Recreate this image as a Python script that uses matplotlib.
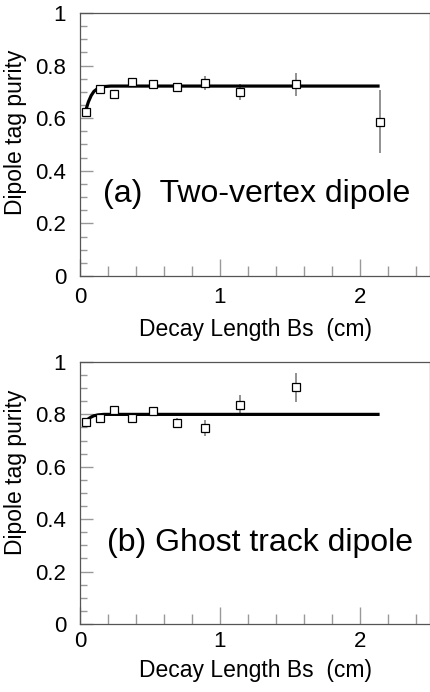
import numpy as np
import matplotlib
matplotlib.use("Agg")
import matplotlib.pyplot as plt
from matplotlib.ticker import MultipleLocator, FuncFormatter

plt.rcParams['font.family'] = ['Liberation Sans', 'DejaVu Sans']

# ----- data -----
# (a) two-vertex dipole
x_a = [0.043, 0.145, 0.244, 0.368, 0.522, 0.693, 0.894, 1.141, 1.545, 2.14]
y_a = [0.625, 0.710, 0.690, 0.739, 0.729, 0.719, 0.734, 0.698, 0.729, 0.587]
err_a = [0.012, 0.008, 0.008, 0.010, 0.013, 0.012, 0.027, 0.030, 0.043, 0.120]
fit_x_a = [0.04, 0.05, 0.06, 0.08, 0.10, 0.13, 0.17, 0.22, 2.14]
fit_y_a = [0.625, 0.645, 0.662, 0.686, 0.702, 0.714, 0.720, 0.722, 0.722]

# (b) ghost track dipole
x_b = [0.043, 0.145, 0.244, 0.368, 0.522, 0.693, 0.894, 1.141, 1.545]
y_b = [0.770, 0.785, 0.816, 0.785, 0.814, 0.767, 0.749, 0.837, 0.903]
err_b = [0.008, 0.008, 0.010, 0.008, 0.010, 0.019, 0.030, 0.036, 0.054]
fit_x_b = [0.04, 0.06, 0.08, 0.10, 0.13, 0.17, 2.14]
fit_y_b = [0.772, 0.783, 0.790, 0.795, 0.798, 0.800, 0.800]

# label, text x, ylabel y, xlabel y, x tick pad
panels = [
    (x_a, y_a, err_a, fit_x_a, fit_y_a, "(a)  Two-vertex dipole", 0.164, 0.548, -0.16, 8),
    (x_b, y_b, err_b, fit_x_b, fit_y_b, "(b) Ghost track dipole", 0.19, 0.58, -0.135, 5),
]
boxes = [[0.1856, 0.6012, 0.8121, 0.3801], [0.1856, 0.0983, 0.8121, 0.3786]]

fig = plt.figure(figsize=(4.31, 6.92), dpi=100)

def fmt(v, pos):
    if abs(v) < 1e-9:
        return "0"
    if abs(v - 1) < 1e-9:
        return "1"
    return "%g" % v

for (xs, ys, es, fx, fy, label, tx, yl, xl, xpad), box in zip(panels, boxes):
    ax = fig.add_axes(box)
    ax.errorbar(xs, ys, yerr=es, fmt='none', ecolor='#888888', elinewidth=1.3, zorder=2)
    ax.plot(fx, fy, color='black', linewidth=2.3, zorder=3, solid_capstyle='butt')
    ax.plot(xs, ys, linestyle='none', marker='s', markersize=5.5,
            markerfacecolor='white', markeredgecolor='black', markeredgewidth=0.9, zorder=4)
    ax.set_xlim(0, 2.5)
    ax.set_ylim(0, 1)
    ax.xaxis.set_major_locator(MultipleLocator(1))
    ax.xaxis.set_minor_locator(MultipleLocator(0.2))
    ax.yaxis.set_major_locator(MultipleLocator(0.2))
    ax.yaxis.set_minor_locator(MultipleLocator(0.05))
    ax.xaxis.set_major_formatter(FuncFormatter(fmt))
    ax.yaxis.set_major_formatter(FuncFormatter(fmt))
    ax.tick_params(which='both', direction='in', color='#999999', labelsize=16)
    ax.tick_params(axis='x', which='major', length=12, width=1, pad=xpad)
    ax.tick_params(axis='x', which='minor', length=7, width=1)
    ax.tick_params(axis='y', which='major', length=9, width=1, pad=10)
    ax.tick_params(axis='y', which='minor', length=5, width=1)
    for s in ax.spines.values():
        s.set_color('#555555')
        s.set_linewidth(0.9)
    ax.set_xlabel("Decay Length Bs  (cm)", fontsize=16.5)
    ax.set_ylabel("Dipole tag purity", fontsize=16.5)
    ax.xaxis.set_label_coords(0.5, xl)
    ax.yaxis.set_label_coords(-0.15, yl)
    ax.text(tx, 0.31, label, fontsize=23, va='center', ha='left')

fig.savefig("out.png", dpi=100)
